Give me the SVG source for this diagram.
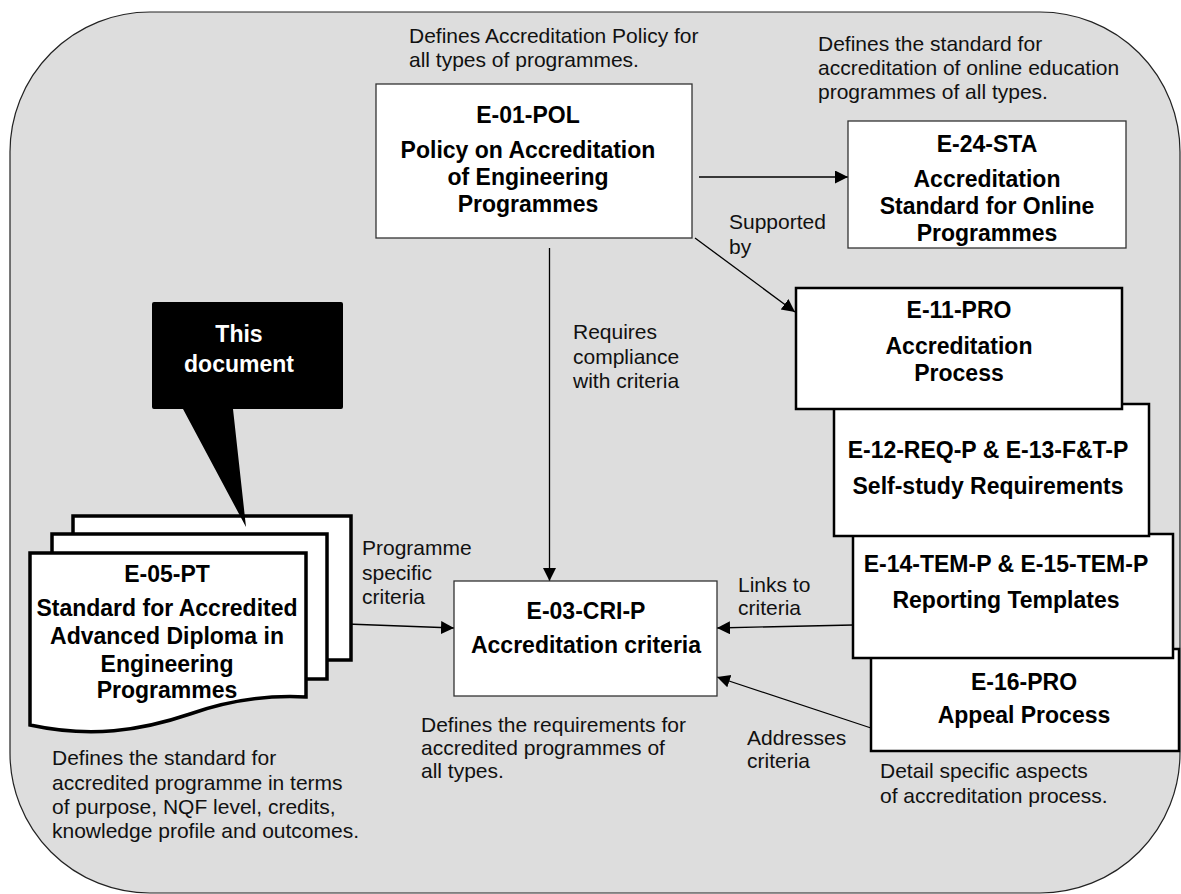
<svg xmlns="http://www.w3.org/2000/svg" width="1181" height="894" viewBox="0 0 1181 894">
<style>
.bg{fill:#dddddd;stroke:#222;stroke-width:1.2}
.thin{fill:#fff;stroke:#333;stroke-width:1.3}
.thick{fill:#fff;stroke:#000;stroke-width:2.5}
.page{fill:#fff;stroke:#000;stroke-width:3.5}
.h{font-family:"Liberation Sans",Arial,sans-serif;font-weight:bold;font-size:23px;fill:#000;text-anchor:middle}
.t{font-family:"Liberation Sans",Arial,sans-serif;font-size:21px;fill:#111}
.w{font-family:"Liberation Sans",Arial,sans-serif;font-weight:bold;font-size:23px;fill:#fff;text-anchor:middle}
.c{stroke:#000;stroke-width:1.3;fill:none;marker-end:url(#ah)}
</style>
<defs>
<marker id="ah" markerUnits="userSpaceOnUse" markerWidth="14" markerHeight="14" refX="13" refY="6.5" orient="auto">
<path d="M0,0 L13,6.5 L0,13 z" fill="#000"/>
</marker>
</defs>
<rect class="bg" x="10" y="12" width="1170" height="881" rx="140" ry="140"/>

<g id="connectors">
<line class="c" x1="699" y1="177" x2="848" y2="177"/>
<line class="c" x1="695" y1="238" x2="795" y2="312"/>
<line class="c" x1="549.5" y1="248" x2="549.5" y2="581"/>
<line class="c" x1="347" y1="624" x2="454" y2="628"/>
<line class="c" x1="853" y1="625" x2="717" y2="628"/>
<line class="c" x1="871" y1="728" x2="717" y2="677"/>
</g>

<g id="labels">
<text class="t" x="409" y="43">Defines Accreditation Policy for</text>
<text class="t" x="409" y="67">all types of programmes.</text>
<text class="t" x="818" y="51">Defines the standard for</text>
<text class="t" x="818" y="75">accreditation of online education</text>
<text class="t" x="818" y="99">programmes of all types.</text>
<text class="t" x="729" y="229">Supported</text>
<text class="t" x="729" y="254">by</text>
<text class="t" x="573" y="339">Requires</text>
<text class="t" x="573" y="364">compliance</text>
<text class="t" x="573" y="388">with criteria</text>
<text class="t" x="362" y="555">Programme</text>
<text class="t" x="362" y="580">specific</text>
<text class="t" x="362" y="604">criteria</text>
<text class="t" x="738" y="592">Links to</text>
<text class="t" x="738" y="615">criteria</text>
<text class="t" x="747" y="745">Addresses</text>
<text class="t" x="747" y="768">criteria</text>
<text class="t" x="421" y="732">Defines the requirements for</text>
<text class="t" x="421" y="755">accredited programmes of</text>
<text class="t" x="421" y="778">all types.</text>
<text class="t" x="880" y="778">Detail specific aspects</text>
<text class="t" x="880" y="803">of accreditation process.</text>
<text class="t" x="52" y="765">Defines the standard for</text>
<text class="t" x="52" y="790">accredited programme in terms</text>
<text class="t" x="52" y="814">of purpose, NQF level, credits,</text>
<text class="t" x="52" y="838">knowledge profile and outcomes.</text>
</g>

<g id="e01pol">
<rect class="thin" x="376" y="84" width="316" height="154"/>
<text class="h" x="528" y="123">E-01-POL</text>
<text class="h" x="528" y="158">Policy on Accreditation</text>
<text class="h" x="528" y="185">of Engineering</text>
<text class="h" x="528" y="212">Programmes</text>
</g>

<g id="e24sta">
<rect class="thin" x="848" y="121" width="278" height="127"/>
<text class="h" x="987" y="152">E-24-STA</text>
<text class="h" x="987" y="187">Accreditation</text>
<text class="h" x="987" y="214">Standard for Online</text>
<text class="h" x="987" y="241">Programmes</text>
</g>

<g id="e16pro">
<rect class="thick" x="871" y="649" width="308" height="102"/>
<text class="h" x="1024" y="690">E-16-PRO</text>
<text class="h" x="1024" y="723">Appeal Process</text>
</g>

<g id="e14tem">
<rect class="thick" x="853" y="534" width="320" height="124"/>
<text class="h" x="1006" y="572">E-14-TEM-P &amp; E-15-TEM-P</text>
<text class="h" x="1006" y="608">Reporting Templates</text>
</g>

<g id="e12req">
<rect class="thick" x="834" y="404" width="315" height="132"/>
<text class="h" x="988" y="458">E-12-REQ-P &amp; E-13-F&amp;T-P</text>
<text class="h" x="988" y="494">Self-study Requirements</text>
</g>

<g id="e11pro">
<rect class="thick" x="796" y="288" width="326" height="121"/>
<text class="h" x="959" y="318">E-11-PRO</text>
<text class="h" x="959" y="354">Accreditation</text>
<text class="h" x="959" y="381">Process</text>
</g>

<g id="e03cri">
<rect class="thin" x="454" y="581" width="263" height="115"/>
<text class="h" x="586" y="619">E-03-CRI-P</text>
<text class="h" x="586" y="653">Accreditation criteria</text>
</g>

<g id="e05pt">
<rect class="page" x="73" y="516" width="278" height="144"/>
<rect class="page" x="52" y="534" width="275" height="145"/>
<path class="page" d="M30,553 L306,553 L306,697 C270,695 230,700 190,714 C140,731 90,738 30,725 Z"/>
<text class="h" x="167" y="582">E-05-PT</text>
<text class="h" x="167" y="616">Standard for Accredited</text>
<text class="h" x="167" y="644">Advanced Diploma in</text>
<text class="h" x="167" y="672">Engineering</text>
<text class="h" x="167" y="698">Programmes</text>
</g>

<g id="callout">
<path d="M154,302 L341,302 Q343,302 343,304 L343,407 Q343,409 341,409 L233,409 L246,527 L183,409 L154,409 Q152,409 152,407 L152,304 Q152,302 154,302 Z" fill="#000"/>
<text class="w" x="239" y="342">This</text>
<text class="w" x="239" y="372">document</text>
</g>
</svg>
